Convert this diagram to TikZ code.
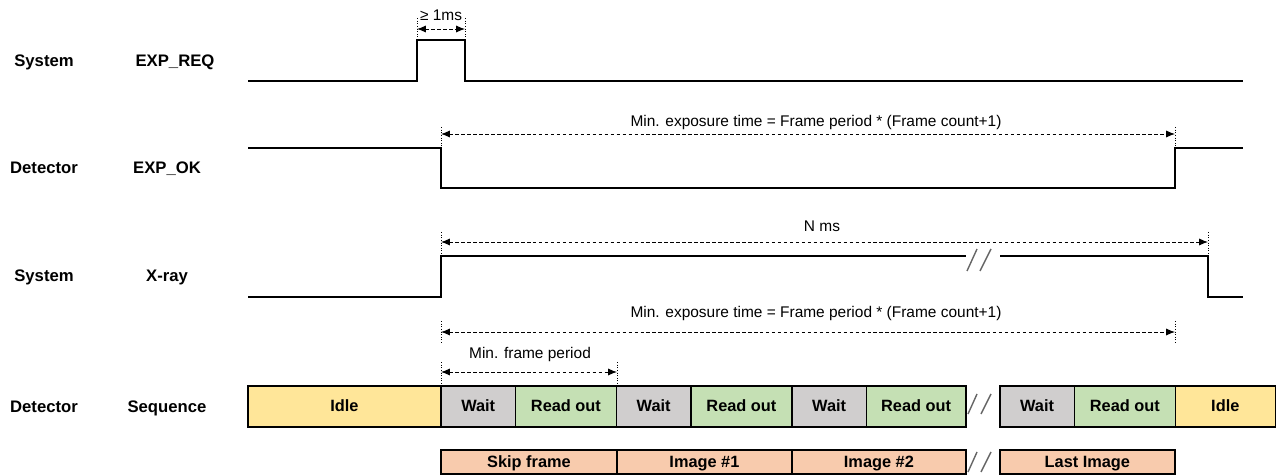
\documentclass[tikz,border=0pt]{standalone}
\usepackage{fontspec}
\setmainfont{Liberation Sans}
\usetikzlibrary{arrows.meta, positioning}

\definecolor{idleyellow}{HTML}{FFE699}
\definecolor{waitgray}{HTML}{D0CECE}
\definecolor{readgreen}{HTML}{C5E0B4}
\definecolor{framepeach}{HTML}{F8CBAD}

\begin{document}
\begin{tikzpicture}[
    x=0.02cm, y=-0.02cm,
    signal/.style={line width=1.1pt},
    guide/.style={densely dotted, line width=0.5pt},
    measure/.style={{Latex[length=5pt,width=4pt]}-{Latex[length=5pt,width=4pt]}, dash pattern=on 2pt off 1.4pt, line width=0.5pt},
    note/.style={font=\fontsize{8.8}{10}\selectfont},
    rowname/.style={font=\fontsize{9.5}{11}\selectfont\bfseries, text height=1.5ex, text depth=0.4ex},
    seq/.style={rectangle, draw, line width=0.9pt, minimum height=0.82cm, outer sep=0pt, inner sep=0pt, text height=1.5ex, text depth=0.4ex, font=\fontsize{9.3}{11}\selectfont\bfseries},
    idle/.style={seq, fill=idleyellow},
    wait/.style={seq, fill=waitgray, minimum width=1.49cm},
    readout/.style={seq, fill=readgreen, minimum width=2.02cm},
    framebox/.style={seq, fill=framepeach, minimum height=0.48cm},
    breakmark/.style={gray!80!black, line width=0.8pt}
]
\useasboundingbox (0,0) rectangle (1278,476);

% Row names
\node[rowname] (sys1) at (44,61) {System};
\node[rowname] (req) at (175,61) {EXP\_REQ};
\node[rowname] (det1) at (44,168) {Detector};
\node[rowname] (ok) at (167,168) {EXP\_OK};
\node[rowname] (sys2) at (44,276) {System};
\node[rowname] (xray) at (167,276) {X-ray};
\node[rowname] (det2) at (44,407) {Detector};
\node[rowname] (sequence) at (167,407) {Sequence};

% EXP_REQ
\draw[signal] (248,81) -- (417,81) -- (417,40) -- (465,40) -- (465,81) -- (1243,81);
\draw[guide] (417,18) -- (417,40);
\draw[guide] (465,18) -- (465,40);
\draw[measure] (417,29) -- (465,29);
\node[note] (pulse) at (441,15) {≥ 1ms};

% EXP_OK
\draw[signal] (248,148) -- (441,148) -- (441,188) -- (1175,188) -- (1175,148) -- (1243,148);
\draw[guide] (441,127) -- (441,148);
\draw[guide] (1175,127) -- (1175,148);
\draw[measure] (441,134) -- (1175,134);
\node[note] (expo1) at (816,123) {Min. exposure time = Frame period * (Frame count+1)};

% X-ray
\draw[signal] (248,297) -- (441,297) -- (441,256) -- (966,256);
\draw[signal] (1000,256) -- (1208,256) -- (1208,297) -- (1243,297);
\draw[breakmark] (967,271) -- (977,249);
\draw[breakmark] (980,271) -- (991,249);
\draw[guide] (441,232) -- (441,256);
\draw[guide] (1208,232) -- (1208,256);
\draw[measure] (441,242) -- (1208,242);
\node[note] (nms) at (822,226) {N ms};

% Exposure and frame period
\draw[guide] (441,321) -- (441,343);
\draw[guide] (1175,321) -- (1175,343);
\draw[measure] (441,332) -- (1175,332);
\node[note] (expo2) at (816,314) {Min. exposure time = Frame period * (Frame count+1)};
\draw[guide] (441,362) -- (441,386);
\draw[guide] (617,362) -- (617,386);
\draw[measure] (441,372) -- (617,372);
\node[note] (period) at (530,355) {Min. frame period};

% Sequence
\node[idle, minimum width=3.86cm, anchor=west] (idle1) at (248,406.5) {Idle};
\node[wait, right=0pt of idle1] (wait1) {Wait};
\node[readout, right=0pt of wait1] (read1) {Read out};
\node[wait, right=0pt of read1] (wait2) {Wait};
\node[readout, right=0pt of wait2] (read2) {Read out};
\node[wait, right=0pt of read2] (wait3) {Wait};
\node[readout, minimum width=1.99cm, right=0pt of wait3] (read3) {Read out};
\node[wait, right=0.68cm of read3] (wait4) {Wait};
\node[readout, right=0pt of wait4] (read4) {Read out};
\node[idle, minimum width=2cm, right=0pt of read4] (idle2) {Idle};
\draw[breakmark] (968,414) -- (977,394);
\draw[breakmark] (981,414) -- (991,394);

% Frames
\node[framebox, minimum width=3.52cm, anchor=west] (skip) at (441,462) {Skip frame};
\node[framebox, minimum width=3.5cm, right=0pt of skip] (img1) {Image \#1};
\node[framebox, minimum width=3.48cm, right=0pt of img1] (img2) {Image \#2};
\node[framebox, minimum width=3.5cm, right=0.68cm of img2] (last) {Last Image};
\draw[breakmark] (968,472) -- (977,452);
\draw[breakmark] (981,472) -- (991,452);

\end{tikzpicture}
\end{document}
